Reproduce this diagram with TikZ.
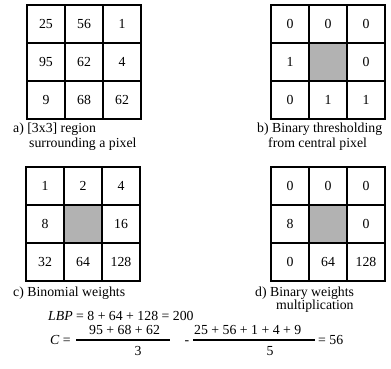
\documentclass[tikz,border=0pt]{standalone}
\usepackage{fontspec}
\setmainfont{Liberation Serif}
\begin{document}
\begin{tikzpicture}[x=1pt,y=-1pt,
  txt/.style={font=\fontsize{13.8}{16}\selectfont},
  cell/.style={txt, draw, line width=2.2pt, minimum size=38pt, inner sep=0pt, anchor=center},
  hole/.style={cell, fill=black!30},
  caption/.style={txt, inner sep=0pt, anchor=base west},
  bar/.style={line width=2pt}]
\useasboundingbox (0,0) rectangle (391,369);

% a) neighbourhood values
\foreach \v/\s [count=\i from 0] in {25/cell,56/cell,1/cell,95/cell,62/cell,4/cell,9/cell,68/cell,62/cell} {
  \pgfmathtruncatemacro\c{mod(\i,3)}\pgfmathtruncatemacro\r{\i/3}
  \node[\s] (a\i) at (46+38*\c, 24+38*\r) {\v};
}
% b) thresholded values
\foreach \v/\s [count=\i from 0] in {0/cell,0/cell,0/cell,1/cell,/hole,0/cell,0/cell,1/cell,1/cell} {
  \pgfmathtruncatemacro\c{mod(\i,3)}\pgfmathtruncatemacro\r{\i/3}
  \node[\s] (b\i) at (290+38*\c, 24+38*\r) {\v};
}
% c) binomial weights
\foreach \v/\s [count=\i from 0] in {1/cell,2/cell,4/cell,8/cell,/hole,16/cell,32/cell,64/cell,128/cell} {
  \pgfmathtruncatemacro\c{mod(\i,3)}\pgfmathtruncatemacro\r{\i/3}
  \node[\s] (c\i) at (45+38*\c, 186+38*\r) {\v};
}
% d) weighted binary values
\foreach \v/\s [count=\i from 0] in {0/cell,0/cell,0/cell,8/cell,/hole,0/cell,0/cell,64/cell,128/cell} {
  \pgfmathtruncatemacro\c{mod(\i,3)}\pgfmathtruncatemacro\r{\i/3}
  \node[\s] (d\i) at (290+38*\c, 186+38*\r) {\v};
}

% captions
\node[caption] (capa1) at (13,132.5) {a) [3x3] region};
\node[caption] (capa2) at (29,147.5) {surrounding a pixel};
\node[caption] (capb1) at (257,132.5) {b) Binary thresholding};
\node[caption] (capb2) at (268,147.5) {from central pixel};
\node[caption] (capc1) at (13,296) {c) Binomial weights};
\node[caption] (capd1) at (255,296) {d) Binary weights};
\node[caption] (capd2) at (276,309) {multiplication};

% formulas
\node[caption] (lbp) at (48,320) {\textit{LBP} = 8 + 64 + 128 = 200};
\node[caption] (ceq) at (50,344) {\textit{C} =};
\coordinate (f1l) at (76,340);
\coordinate (f1r) at (170,340);
\draw[bar] (f1l) -- (f1r);
\node[caption] (num1) at (89,334) {95 + 68 + 62};
\node[txt, inner sep=0pt, anchor=base] (den1) at (138,355) {3};
\node[txt, inner sep=0pt, anchor=base] (minus) at (187,344) {-};
\coordinate (f2l) at (193,340);
\coordinate (f2r) at (315,340);
\draw[bar] (f2l) -- (f2r);
\node[caption] (num2) at (194,334) {25 + 56 + 1 + 4 + 9};
\node[txt, inner sep=0pt, anchor=base] (den2) at (270,355) {5};
\node[caption] (res) at (318,344) {= 56};
\end{tikzpicture}
\end{document}
